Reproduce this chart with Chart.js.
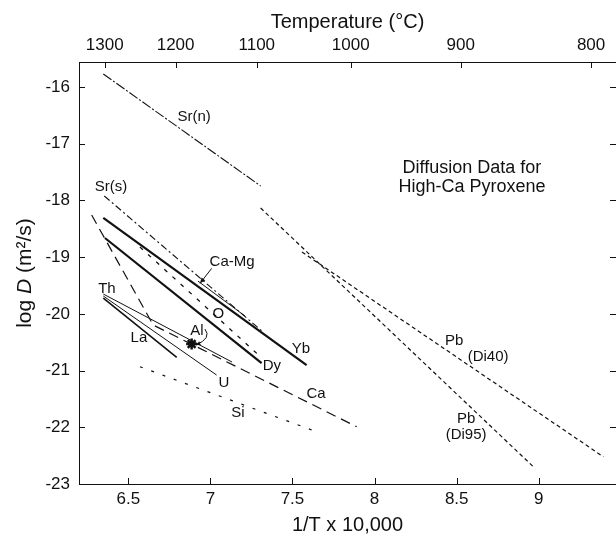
<!DOCTYPE html>
<html><head><meta charset="utf-8">
<script src="https://cdn.jsdelivr.net/npm/chart.js@4.4.1/dist/chart.umd.min.js"></script>
<style>html,body{margin:0;padding:0;background:#fff}</style>
</head><body>
<canvas id="c" width="616" height="536"></canvas>
<script>
// ---- tick labels ----
const xTicks = [6.5, 7, 7.5, 8, 8.5, 9];
const yTicks = [-23, -22, -21, -20, -19, -18, -17, -16];
const tempTicks = [1300, 1200, 1100, 1000, 900, 800];

// ---- series (x = 1/T x 10,000, y = log D) ----
const srN   = [[6.348, -15.771], [7.306, -17.746]];
const srS   = [[6.354, -17.922], [7.314, -20.303]];
const yb    = [[6.348, -18.310], [7.586, -20.903]];
const dy    = [[6.358, -18.663], [7.312, -20.868]];
const oxy   = [[6.571, -18.822], [7.314, -20.780]];
const caMg  = [[6.924, -19.422], [7.211, -20.039]];
const th    = [[6.348, -19.651], [7.132, -20.850]];
const u     = [[6.348, -19.686], [7.038, -21.079]];
const la    = [[6.348, -19.721], [6.795, -20.767]];
const ca    = [[6.277, -18.257], [6.652, -20.198], [7.891, -21.991]];
const si    = [[6.571, -20.933], [7.647, -22.079]];
const pbDi95 = [[7.306, -18.134], [8.971, -22.707]];
const pbDi40 = [[7.558, -18.910], [9.393, -22.520]];
const al    = [[6.886, -20.533]];

// ---- in-plot labels [text, x, y] ----
const labelTexts = ['Sr(n)', 'Sr(s)', 'Ca-Mg', 'O', 'Th', 'La', 'Al', 'Yb', 'Dy', 'U', 'Ca', 'Si', 'Pb', '(Di40)', 'Pb', '(Di95)'];
const labelX = [6.901, 6.395, 7.132, 7.048, 6.370, 6.565, 6.918, 7.552, 7.375, 7.083, 7.643, 7.168, 8.484, 8.691, 8.557, 8.557];
const labelY = [-16.529, -17.764, -19.086, -20.000, -19.563, -20.427, -20.303, -20.621, -20.921, -21.220, -21.414, -21.750, -20.480, -20.762, -21.855, -22.138];
const noteLines = ['Diffusion Data for', 'High-Ca Pyroxene'];
const noteX = 8.593;
const noteY = [-17.429, -17.764];

const INK = '#111';
const pts = a => a.map(p => ({x: p[0], y: p[1]}));
function ds(data, width, dash) {
  return {data: pts(data), showLine: true, borderColor: INK, backgroundColor: INK,
          borderWidth: width, borderDash: dash, pointRadius: 0, pointHoverRadius: 0,
          fill: false, tension: 0};
}

const labelsPlugin = {
  id: 'labels',
  afterDatasetsDraw(chart) {
    const {ctx, scales: {x, y}} = chart;
    ctx.save();
    ctx.fillStyle = INK;
    ctx.textAlign = 'center';
    ctx.textBaseline = 'middle';
    ctx.font = '15px "Liberation Sans", Arial, sans-serif';
    labelTexts.forEach((t, i) => {
      ctx.fillText(t, x.getPixelForValue(labelX[i]), y.getPixelForValue(labelY[i]));
    });
    ctx.font = '18px "Liberation Sans", Arial, sans-serif';
    noteLines.forEach((t, i) => ctx.fillText(t, x.getPixelForValue(noteX), y.getPixelForValue(noteY[i])));

    // arrows
    ctx.strokeStyle = INK; ctx.lineWidth = 1;
    const P = (vx, vy) => [x.getPixelForValue(vx), y.getPixelForValue(vy)];
    let [ax, ay] = P(7.008, -19.198), [bx, by] = P(6.937, -19.462);
    ctx.beginPath(); ctx.moveTo(ax, ay); ctx.lineTo(bx, by); ctx.stroke();
    let ang = Math.atan2(by - ay, bx - ax);
    ctx.beginPath(); ctx.moveTo(bx, by);
    ctx.lineTo(bx - 6 * Math.cos(ang - 0.4), by - 6 * Math.sin(ang - 0.4));
    ctx.lineTo(bx - 6 * Math.cos(ang + 0.4), by - 6 * Math.sin(ang + 0.4));
    ctx.closePath(); ctx.fill();
    const [s1, s2] = P(6.967, -20.268), [c1, c2] = P(7.010, -20.427), [e1, e2] = P(6.912, -20.550);
    ctx.beginPath(); ctx.moveTo(s1, s2); ctx.quadraticCurveTo(c1, c2, e1, e2); ctx.stroke();
    ang = Math.atan2(e2 - c2, e1 - c1);
    ctx.beginPath(); ctx.moveTo(e1, e2);
    ctx.lineTo(e1 - 5 * Math.cos(ang - 0.45), e2 - 5 * Math.sin(ang - 0.45));
    ctx.lineTo(e1 - 5 * Math.cos(ang + 0.45), e2 - 5 * Math.sin(ang + 0.45));
    ctx.closePath(); ctx.fill();
    ctx.restore();
  },
  afterDraw(chart) {
    const {ctx, chartArea: a, scales: {x, y, x2}} = chart;
    ctx.save();
    ctx.strokeStyle = INK; ctx.lineWidth = 1;
    ctx.beginPath();
    const L = 6;
    x.ticks.forEach(t => { const p = Math.round(x.getPixelForValue(t.value)) + 0.5; ctx.moveTo(p, a.bottom); ctx.lineTo(p, a.bottom - L); });
    x2.ticks.forEach(t => { const p = Math.round(x2.getPixelForValue(t.value)) + 0.5; ctx.moveTo(p, a.top); ctx.lineTo(p, a.top + L); });
    y.ticks.forEach(t => { const p = Math.round(y.getPixelForValue(t.value)) + 0.5;
      ctx.moveTo(a.left, p); ctx.lineTo(a.left + L, p);
      ctx.moveTo(a.right, p); ctx.lineTo(a.right - L, p); });
    ctx.stroke();
    // y-axis title with italic D
    ctx.fillStyle = INK;
    ctx.translate(25, (a.top + a.bottom) / 2);
    ctx.rotate(-Math.PI / 2);
    ctx.textBaseline = 'middle';
    ctx.textAlign = 'left';
    const fN = '21px "Liberation Sans", Arial, sans-serif';
    const fI = 'italic 21px "Liberation Sans", Arial, sans-serif';
    const parts = [['log ', fN], ['D', fI], [' (m²/s)', fN]];
    let w = 0;
    parts.forEach(p => { ctx.font = p[1]; w += ctx.measureText(p[0]).width; });
    let cx = -w / 2;
    parts.forEach(p => { ctx.font = p[1]; ctx.fillText(p[0], cx, 0); cx += ctx.measureText(p[0]).width; });
    ctx.restore();
  }
};

const tickFont = {family: '"Liberation Sans", Arial, sans-serif', size: 17};
const titleFont = {family: '"Liberation Sans", Arial, sans-serif', size: 20, lineHeight: 1};
const noPad = s => { s.paddingLeft = 0; s.paddingRight = 0; s.paddingTop = 0; s.paddingBottom = 0; };

new Chart(document.getElementById('c'), {
  type: 'scatter',
  data: {datasets: [
    ds(srN, 1.1, [10, 2, 2, 2]),
    ds(srS, 1.1, [7, 3, 2, 3]),
    ds(yb, 2.2, []),
    ds(dy, 2.2, []),
    ds(oxy, 1.3, [4, 7]),
    ds(caMg, 1, []),
    ds(th, 1, []),
    ds(u, 1, []),
    ds(la, 1.6, []),
    ds(ca, 1.2, [10, 6]),
    ds(si, 1.2, [3, 9]),
    ds(pbDi95, 1.2, [4, 3]),
    ds(pbDi40, 1.2, [4, 3]),
    {data: pts(al), showLine: false, pointStyle: 'star', pointRadius: 5.5, borderWidth: 2.5,
     borderColor: INK, backgroundColor: INK}
  ]},
  options: {
    responsive: false, animation: false, devicePixelRatio: 1,
    layout: {padding: 0, autoPadding: false},
    plugins: {legend: {display: false}, tooltip: {enabled: false}},
    scales: {
      x: {
        type: 'linear', position: 'bottom', min: 6.2, max: 9.47,
        afterBuildTicks: s => { s.ticks = xTicks.map(v => ({value: v})); },
        afterFit: s => { s.height = 52; noPad(s); },
        ticks: {font: tickFont, color: INK, padding: 5, maxRotation: 0, autoSkip: false, callback: v => String(v)},
        grid: {display: false, drawTicks: false},
        border: {display: true, color: INK, width: 1},
        title: {display: true, text: '1/T x 10,000', font: titleFont, color: INK, padding: {top: 0, bottom: 1}}
      },
      x2: {
        type: 'linear', position: 'top', min: 6.2, max: 9.47,
        afterBuildTicks: s => { s.ticks = tempTicks.map(t => ({value: 10000 / (t + 273.15)})); },
        afterFit: s => { s.height = 62; noPad(s); },
        ticks: {font: tickFont, color: INK, padding: 6, maxRotation: 0, autoSkip: false,
                callback: (v, i) => String(tempTicks[i])},
        grid: {display: false, drawTicks: false},
        border: {display: true, color: INK, width: 1},
        title: {display: true, text: 'Temperature (°C)', font: titleFont, color: INK, padding: {top: 12, bottom: 0}}
      },
      y: {
        type: 'linear', position: 'left', min: -23, max: -15.56,
        afterBuildTicks: s => { s.ticks = yTicks.map(v => ({value: v})); },
        afterFit: s => { s.width = 79; noPad(s); },
        ticks: {font: tickFont, color: INK, padding: 9, autoSkip: false, callback: v => String(v)},
        grid: {display: false, drawTicks: false},
        border: {display: true, color: INK, width: 1}
      }
    }
  },
  plugins: [labelsPlugin]
});
</script>
</body></html>
